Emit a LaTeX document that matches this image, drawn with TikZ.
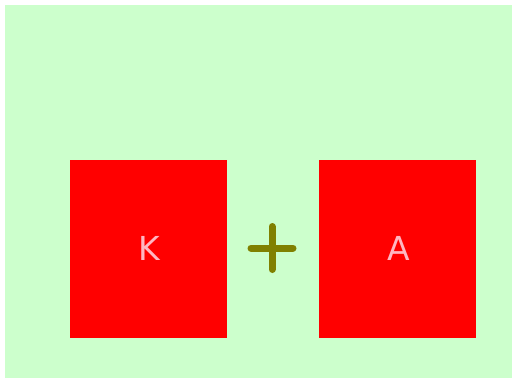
\documentclass[tikz,border=0pt]{standalone}
\usepackage{fontspec}
\setmainfont{DejaVu Sans}
\definecolor{bggreen}{RGB}{204,255,204}
\definecolor{boxred}{RGB}{255,0,0}
\definecolor{txtpink}{RGB}{255,182,193}
\definecolor{plusolive}{RGB}{128,128,0}
\tikzset{
  redbox/.style={fill=boxred, draw=none, minimum width=157pt, minimum height=178pt, inner sep=0pt},
  boxlabel/.style={text=txtpink, font=\fontsize{33}{37}\selectfont, inner sep=0pt, anchor=center},
  plusline/.style={draw=plusolive, line width=7pt, line cap=round}
}
\begin{document}
\begin{tikzpicture}[x=1pt,y=-1pt]
\useasboundingbox (0,0) rectangle (512,378);
\fill[bggreen] (5,5) rectangle (512,378);
\node[redbox] (k) at (148.5,249) {};
\node[redbox] (a) at (397.5,249) {};
\node[boxlabel] (kt) at (149,248) {K};
\node[boxlabel] (at) at (399,248) {A};
\coordinate (pc) at (272,248);
\draw[plusline] ([xshift=-21pt]pc) -- ([xshift=21pt]pc);
\draw[plusline] ([yshift=-21.5pt]pc) -- ([yshift=21.5pt]pc);
\end{tikzpicture}
\end{document}
